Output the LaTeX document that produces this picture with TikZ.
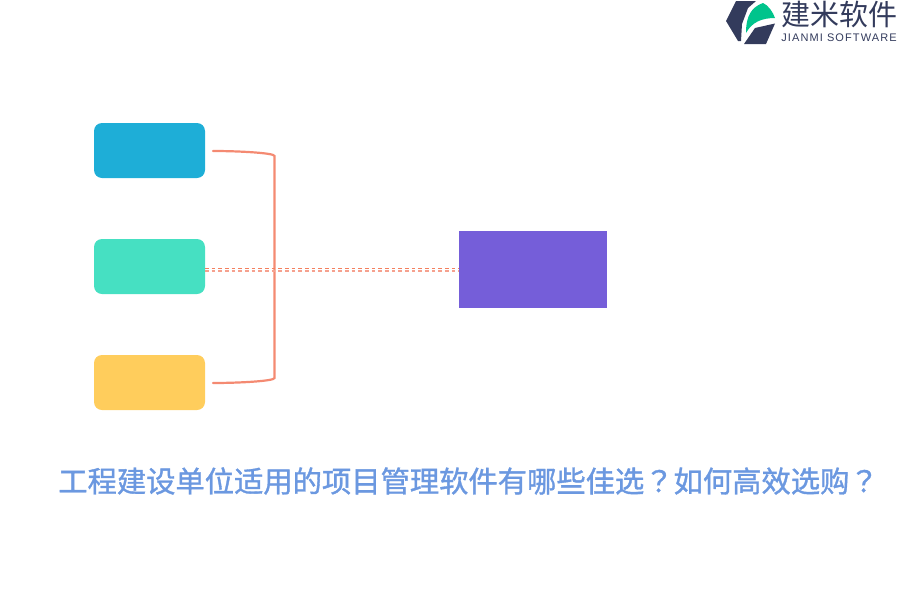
\documentclass[tikz,border=0pt]{standalone}
\usepackage{fontspec}
\newfontfamily\cjk{Noto Sans CJK SC}
\newfontfamily\cjkb[FakeBold=1.2]{Noto Sans CJK SC}
\newfontfamily\cjkq[FakeBold=1.2]{Noto Sans CJK TC}
\setmainfont{Liberation Sans}
\newfontfamily\lsp[LetterSpace=10]{Liberation Sans}
\definecolor{salmonc}{HTML}{F48A72}
\definecolor{dashc}{HTML}{F4805F}
\definecolor{logoc}{HTML}{333B5C}
\definecolor{titlec}{RGB}{107,152,224}
\definecolor{leafc}{RGB}{0,196,140}
\tikzset{
  every picture/.style={x=1pt,y=-1pt},
  card/.style={rounded corners=8pt,minimum width=111pt,minimum height=55pt,inner sep=0pt,line width=0pt},
  bracket/.style={draw=salmonc,line width=2.2pt,line cap=round},
  dotline/.style={line width=1.3pt,dash pattern=on 3.6pt off 3.07pt},
}
\begin{document}
\begin{tikzpicture}
\useasboundingbox (0,0) rectangle (900,600);
\node[card,fill={rgb,255:red,30;green,174;blue,215}] (a) at (149.5,150.5) {};
\node[card,fill={rgb,255:red,70;green,224;blue,194}] (b) at (149.5,266.5) {};
\node[card,fill={rgb,255:red,255;green,205;blue,92}] (c) at (149.5,382.5) {};
\node[fill={rgb,255:red,117;green,94;blue,217},minimum width=148pt,minimum height=77pt,inner sep=0pt] (d) at (533,269.5) {};
\coordinate (s1) at (213,151);
\coordinate (s3) at (213,383);
\coordinate (j1) at (274.5,156);
\coordinate (j3) at (274.5,378);
\draw[bracket] (s1) .. controls (240,151) and (274.5,153) .. (j1) -- (j3) .. controls (274.5,381) and (240,383) .. (s3);
\draw[dotline,draw=dashc] (b.east |- 0,268.5) -- (d.west |- 0,268.5);
\draw[dotline,draw=salmonc!80] (b.east |- 0,271) -- (d.west |- 0,271);
\node[text=titlec,inner sep=0pt] (title) at (468.5,481) {\fontsize{29.3}{32}\selectfont\cjkb 工程建设单位适用的项目管理软件有哪些佳选{\cjkq ？}如何高效选购{\cjkq ？}};
% logo
\fill[logoc] (736,1) -- (756,1) -- (748,8) -- (742,24) -- (741,41) -- (738,41) -- (726,21) -- cycle;
\fill[logoc] (744,44) -- (755,28) -- (775,23.5) -- (766,44) -- cycle;
\fill[leafc] (746,33) .. controls (746,15) and (752,7) .. (763,3) .. controls (768,5) and (773,12) .. (775,18) .. controls (762,18) and (752,22) .. (746,33) -- cycle;
\node[text=logoc,inner sep=0pt] (lt) at (839.5,14) {\fontsize{29}{30}\selectfont\cjk 建米软件};
\node[text=logoc,inner sep=0pt] (ls) at (839,38) {\fontsize{11}{12}\selectfont\lsp JIANMI SOFTWARE};
\end{tikzpicture}
\end{document}
